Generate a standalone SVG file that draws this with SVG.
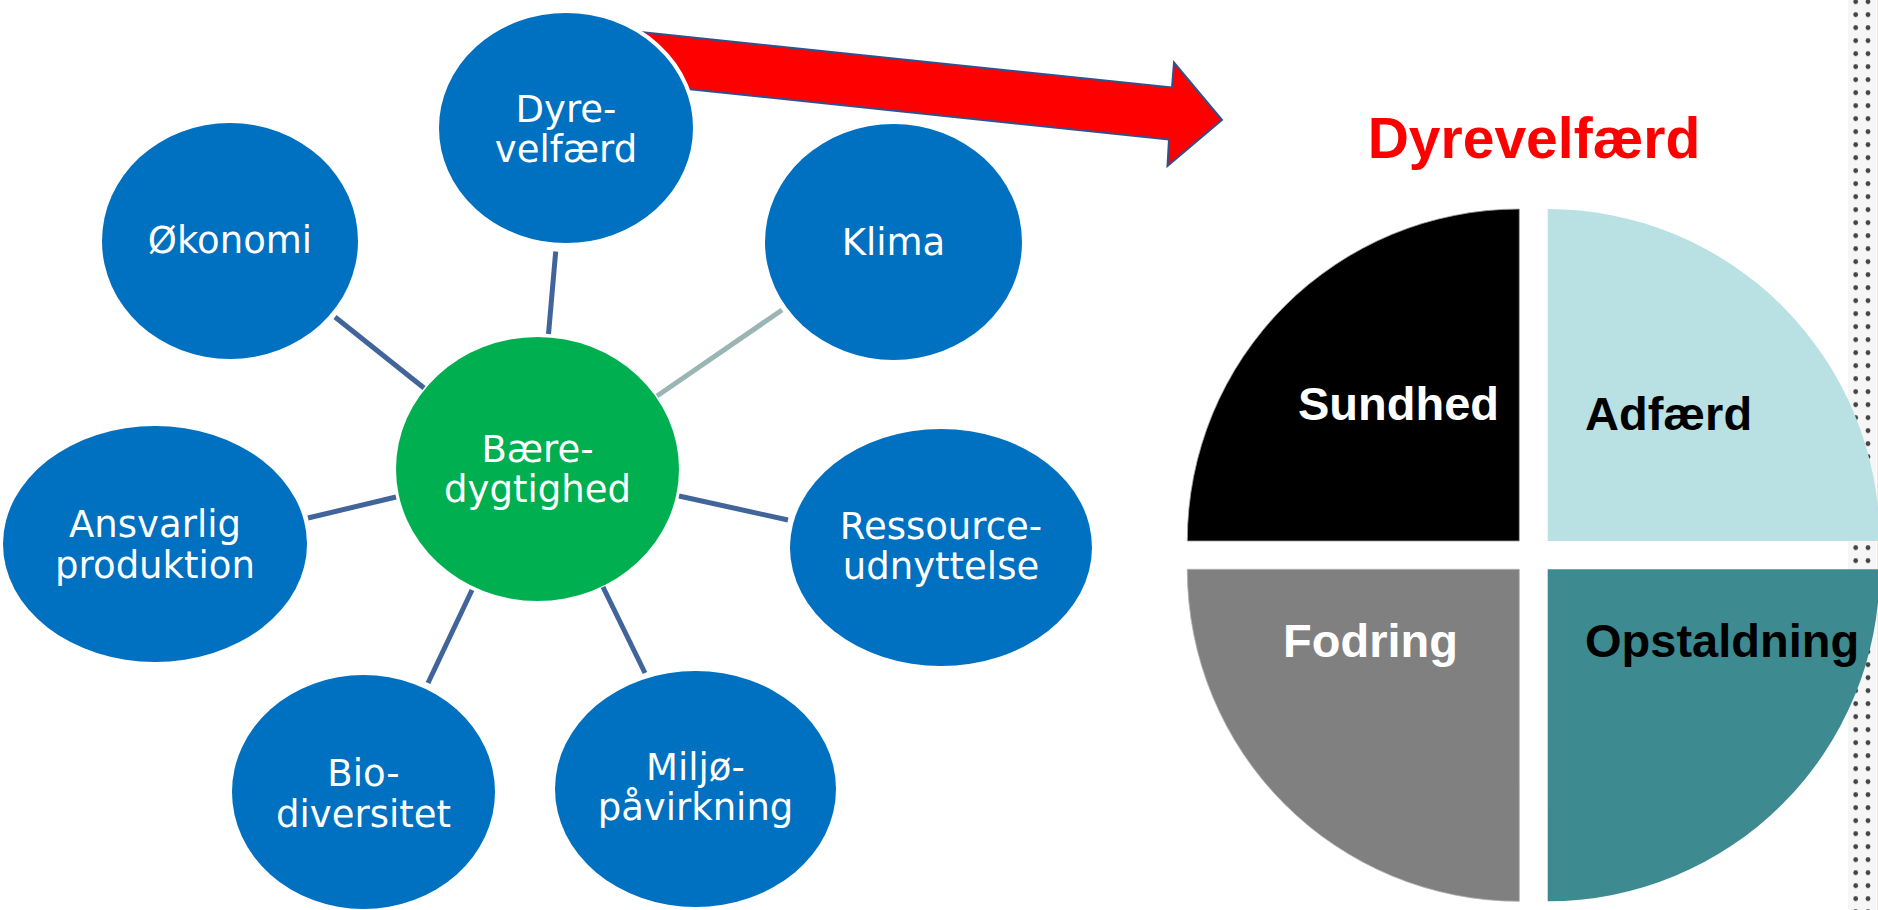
<svg xmlns="http://www.w3.org/2000/svg" width="1878" height="910" viewBox="0 0 1878 910">
<defs>
<style>
.node{fill:#0070C0;}
.hub{fill:#00B050;}
.nt{font-family:"DejaVu Sans","Verdana",sans-serif;font-size:37px;fill:#FFFFFF;text-anchor:middle;}
.con{stroke:#41649A;stroke-width:5;fill:none;}
.con2{stroke:#9BB5B5;stroke-width:5;fill:none;}
.pt{font-family:"Liberation Sans","Arial",sans-serif;font-weight:bold;font-size:47px;}
</style>
<pattern id="dots" x="1849" y="-4.8" width="25" height="13" patternUnits="userSpaceOnUse">
<circle cx="6.7" cy="6.5" r="2.4" fill="#444444"/>
<circle cx="19" cy="6.5" r="2.4" fill="#444444"/>
</pattern>
</defs>
<rect x="0" y="0" width="1878" height="910" fill="#FFFFFF"/>
<g id="border">
<rect x="1848" y="0" width="28" height="910" fill="#F6F6F6"/>
<rect x="1848" y="0" width="28" height="910" fill="url(#dots)"/>
<line x1="1877.5" y1="0" x2="1877.5" y2="910" stroke="#F3EBB0" stroke-width="1"/>
</g>
<g id="arrow">
<polygon points="600,27.8 1172,87.5 1174,62.5 1222,120 1167.5,166 1169,139.6 600,79.8" fill="#FF0000" stroke="#2F528F" stroke-width="2" stroke-linejoin="miter"/>
</g>
<g id="connectors">
<line class="con" x1="555.7" y1="251.5" x2="548.5" y2="334"/>
<line class="con" x1="335" y1="317" x2="424" y2="388"/>
<line class="con" x1="308" y1="518" x2="396" y2="497"/>
<line class="con" x1="428" y1="683" x2="472" y2="590"/>
<line class="con" x1="603" y1="587" x2="645" y2="673"/>
<line class="con" x1="679" y1="496" x2="788" y2="520"/>
<line class="con2" x1="657" y1="396" x2="782" y2="310"/>
</g>
<g id="node-dyrevelfaerd">
<ellipse class="node" cx="566" cy="128" rx="129" ry="117" stroke="#FFFFFF" stroke-width="4"/>
<text class="nt" x="566" y="122">Dyre-</text>
<text class="nt" x="566" y="162">velfærd</text>
</g>
<g id="node-okonomi">
<ellipse class="node" cx="230" cy="241" rx="128" ry="118"/>
<text class="nt" x="230" y="253">Økonomi</text>
</g>
<g id="node-klima">
<ellipse class="node" cx="893.5" cy="242" rx="128.5" ry="118"/>
<text class="nt" x="893.5" y="255">Klima</text>
</g>
<g id="node-ansvarlig">
<ellipse class="node" cx="155" cy="544" rx="152" ry="118"/>
<text class="nt" x="155" y="537">Ansvarlig</text>
<text class="nt" x="155" y="578">produktion</text>
</g>
<g id="node-ressource">
<ellipse class="node" cx="941" cy="547.5" rx="151" ry="118.5"/>
<text class="nt" x="941" y="539">Ressource-</text>
<text class="nt" x="941" y="579">udnyttelse</text>
</g>
<g id="node-bio">
<ellipse class="node" cx="363.5" cy="792" rx="131.5" ry="117"/>
<text class="nt" x="363.5" y="786">Bio-</text>
<text class="nt" x="363.5" y="827">diversitet</text>
</g>
<g id="node-miljo">
<ellipse class="node" cx="695.5" cy="789" rx="140.5" ry="118"/>
<text class="nt" x="695.5" y="780">Miljø-</text>
<text class="nt" x="695.5" y="820">påvirkning</text>
</g>
<g id="node-baeredygtighed">
<ellipse class="hub" cx="537.5" cy="469" rx="141.5" ry="132"/>
<text class="nt" x="537.5" y="462">Bære-</text>
<text class="nt" x="537.5" y="502">dygtighed</text>
</g>
<g id="title">
<text x="1534" y="157.7" font-family="Liberation Sans, Arial, sans-serif" font-weight="bold" font-size="57" fill="#FF0000" text-anchor="middle">Dyrevelfærd</text>
</g>
<g id="pie">
<path id="q-sundhed" d="M1519.3,541 L1187.3,541 A332,332 0 0 1 1519.3,209 Z" fill="#000000" stroke="#A0A0A0" stroke-width="0.8"/>
<path id="q-adfaerd" d="M1547.7,541 L1547.7,209 A332,332 0 0 1 1879.7,541 Z" fill="#B9E0E3"/>
<path id="q-fodring" d="M1519.3,569.3 L1519.3,901.3 A332,332 0 0 1 1187.3,569.3 Z" fill="#808080" stroke="#B0B0B0" stroke-width="0.8"/>
<path id="q-opstaldning" d="M1547.7,569.3 L1879.7,569.3 A332,332 0 0 1 1547.7,901.3 Z" fill="#3D8B90"/>
<text class="pt" x="1298" y="420" fill="#FFFFFF">Sundhed</text>
<text class="pt" x="1585" y="430" fill="#000000">Adfærd</text>
<text class="pt" x="1283" y="657" fill="#FFFFFF">Fodring</text>
<text class="pt" x="1585" y="657" fill="#000000">Opstaldning</text>
</g>
</svg>
